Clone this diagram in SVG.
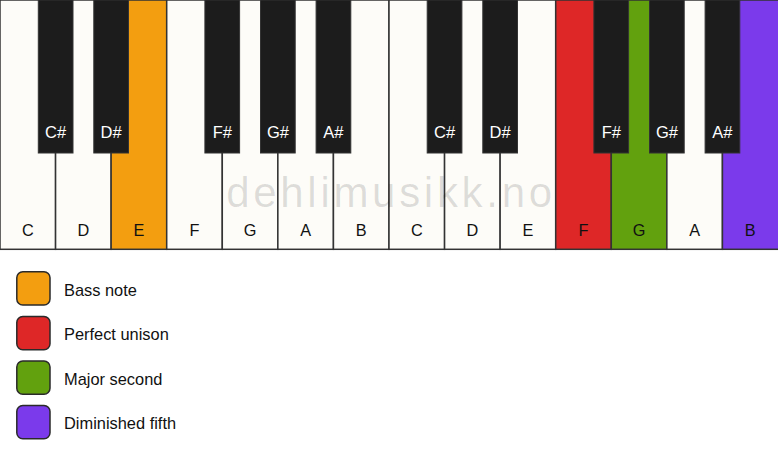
<svg xmlns="http://www.w3.org/2000/svg" width="778" height="461" viewBox="0 0 778 461">
<style>
.w{fill:#fdfcf8;stroke:#333;stroke-width:1.5}
.b{fill:#1c1c1c;stroke:#333;stroke-width:1}
.wl{font-family:"Liberation Sans",Arial,sans-serif;font-size:16.3px;fill:#111;text-anchor:middle}
.bl{font-family:"Liberation Sans",Arial,sans-serif;font-size:16.5px;fill:#fff;text-anchor:middle}
.lg{font-family:"Liberation Sans",Arial,sans-serif;font-size:16.4px;fill:#111}
.sw{stroke:#2a2a2a;stroke-width:1.5}
</style>
<rect width="778" height="461" fill="#fff"/>
<g id="white-keys">
<g id="key-C1"><rect class="w" x="0" y="0" width="55.57" height="249.3"/><text class="wl" x="27.8" y="236">C</text></g>
<g id="key-D1"><rect class="w" x="55.57" y="0" width="55.57" height="249.3"/><text class="wl" x="83.4" y="236">D</text></g>
<g id="key-E1"><rect class="w" x="111.14" y="0" width="55.57" height="249.3" style="fill:#f39e10"/><text class="wl" x="138.9" y="236">E</text></g>
<g id="key-F1"><rect class="w" x="166.71" y="0" width="55.57" height="249.3"/><text class="wl" x="194.5" y="236">F</text></g>
<g id="key-G1"><rect class="w" x="222.29" y="0" width="55.57" height="249.3"/><text class="wl" x="250.1" y="236">G</text></g>
<g id="key-A1"><rect class="w" x="277.86" y="0" width="55.57" height="249.3"/><text class="wl" x="305.6" y="236">A</text></g>
<g id="key-B1"><rect class="w" x="333.43" y="0" width="55.57" height="249.3"/><text class="wl" x="361.2" y="236">B</text></g>
<g id="key-C2"><rect class="w" x="389" y="0" width="55.57" height="249.3"/><text class="wl" x="416.8" y="236">C</text></g>
<g id="key-D2"><rect class="w" x="444.57" y="0" width="55.57" height="249.3"/><text class="wl" x="472.4" y="236">D</text></g>
<g id="key-E2"><rect class="w" x="500.14" y="0" width="55.57" height="249.3"/><text class="wl" x="527.9" y="236">E</text></g>
<g id="key-F2"><rect class="w" x="555.71" y="0" width="55.57" height="249.3" style="fill:#de2727"/><text class="wl" x="583.5" y="236">F</text></g>
<g id="key-G2"><rect class="w" x="611.29" y="0" width="55.57" height="249.3" style="fill:#62a10e"/><text class="wl" x="639.1" y="236">G</text></g>
<g id="key-A2"><rect class="w" x="666.86" y="0" width="55.57" height="249.3"/><text class="wl" x="694.6" y="236">A</text></g>
<g id="key-B2"><rect class="w" x="722.43" y="0" width="56.5" height="249.3" style="fill:#7b3aeb"/><text class="wl" x="750.2" y="236">B</text></g>
</g>
<g id="black-keys">
<g id="key-Cs1"><rect class="b" x="38.3" y="0" width="34.7" height="153"/><text class="bl" x="55.6" y="138">C#</text></g>
<g id="key-Ds1"><rect class="b" x="93.8" y="0" width="34.7" height="153"/><text class="bl" x="111.1" y="138">D#</text></g>
<g id="key-Fs1"><rect class="b" x="204.9" y="0" width="34.7" height="153"/><text class="bl" x="222.3" y="138">F#</text></g>
<g id="key-Gs1"><rect class="b" x="260.5" y="0" width="34.7" height="153"/><text class="bl" x="277.9" y="138">G#</text></g>
<g id="key-As1"><rect class="b" x="316.1" y="0" width="34.7" height="153"/><text class="bl" x="333.4" y="138">A#</text></g>
<g id="key-Cs2"><rect class="b" x="427.2" y="0" width="34.7" height="153"/><text class="bl" x="444.6" y="138">C#</text></g>
<g id="key-Ds2"><rect class="b" x="482.8" y="0" width="34.7" height="153"/><text class="bl" x="500.1" y="138">D#</text></g>
<g id="key-Fs2"><rect class="b" x="593.9" y="0" width="34.7" height="153"/><text class="bl" x="611.3" y="138">F#</text></g>
<g id="key-Gs2"><rect class="b" x="649.5" y="0" width="34.7" height="153"/><text class="bl" x="666.9" y="138">G#</text></g>
<g id="key-As2"><rect class="b" x="705.1" y="0" width="34.7" height="153"/><text class="bl" x="722.4" y="138">A#</text></g>
</g>
<text id="watermark" x="391" y="206.5" font-family="'Liberation Sans',Arial,sans-serif" font-size="42" letter-spacing="3.7" text-anchor="middle" fill="#000" fill-opacity="0.13">dehlimusikk.no</text>
<g id="legend">
<g id="legend-bass"><rect class="sw" x="16.8" y="271.8" width="33.2" height="33.2" rx="6" fill="#f39e10"/><text class="lg" x="64" y="295.5">Bass note</text></g>
<g id="legend-unison"><rect class="sw" x="16.8" y="316.5" width="33.2" height="33.2" rx="6" fill="#de2727"/><text class="lg" x="64" y="340">Perfect unison</text></g>
<g id="legend-second"><rect class="sw" x="16.8" y="361" width="33.2" height="33.2" rx="6" fill="#62a10e"/><text class="lg" x="64" y="384.5">Major second</text></g>
<g id="legend-fifth"><rect class="sw" x="16.8" y="405.5" width="33.2" height="33.2" rx="6" fill="#7b3aeb"/><text class="lg" x="64" y="429">Diminished fifth</text></g>
</g>
</svg>
